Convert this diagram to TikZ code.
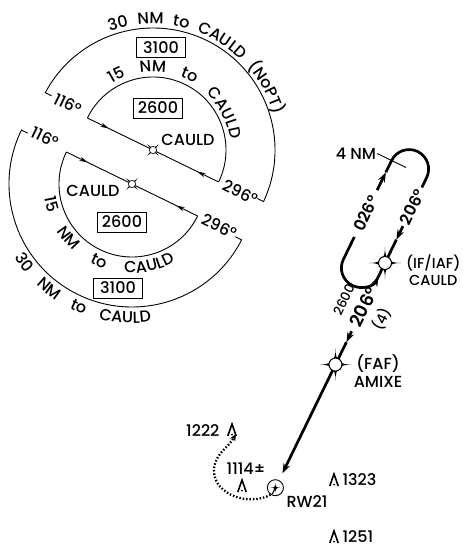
\documentclass[tikz,border=0pt]{standalone}
\usepackage{fontspec}
\setmainfont{Poppins}[UprightFont={* Medium}, BoldFont={* SemiBold}]
\usetikzlibrary{positioning,calc,arrows.meta,decorations.text,decorations.markings}

\tikzset{
    hldtip/.tip={Stealth[length=8pt,width=4.5pt]},
    crstip/.tip={Stealth[length=10pt,width=7pt]},
    holdline/.style={line width=0.9pt},
    course/.style={line width=2.7pt},
    missed/.style={line width=2.3pt, dash pattern=on 1.5pt off 1.9pt},
    altbox/.style={draw, line width=0.9pt, minimum width=49pt, minimum height=20pt, inner sep=0pt},
    hdg/.style={font=\fontsize{16}{19}\selectfont\bfseries, rotate=64},
    arctext/.style={decorate, decoration={text along path, text={#1}, text align=fit to path stretching spaces}},
    inbound/.style={postaction={decorate}, decoration={markings,
        mark=at position 0.16 with {\arrow{hldtip}},
        mark=at position 0.84 with {\arrowreversed{hldtip}}}},
    fixsm/.pic={
        \fill (45:8) .. controls (45:2.5) and (135:2.5) .. (135:8)
            .. controls (135:2.5) and (225:2.5) .. (225:8)
            .. controls (225:2.5) and (315:2.5) .. (315:8)
            .. controls (315:2.5) and (45:2.5) .. (45:8) -- cycle;
        \filldraw[fill=white, line width=0.6pt] (0,0) circle (3.6);
    },
    fixbig/.pic={
        \fill (0:16) .. controls (0:4) and (90:4) .. (90:16)
            .. controls (90:4) and (180:4) .. (180:16)
            .. controls (180:4) and (270:4) .. (270:16)
            .. controls (270:4) and (0:4) .. (0:16) -- cycle;
        \filldraw[fill=white, line width=1pt] (0,0) circle (6.5);
    },
    obst/.pic={
        \draw[line width=1.6pt] (-4.2,-6) -- (0,6) -- (4.2,-6);
        \fill (0,-4.5) circle (1);
    },
    aptsym/.pic={
        \fill (0:5) .. controls (0:1) and (90:1) .. (90:5)
            .. controls (90:1) and (180:1) .. (180:5)
            .. controls (180:1) and (270:1) .. (270:5)
            .. controls (270:1) and (0:1) .. (0:5) -- cycle;
        \draw[line width=1.2pt] (0,0) -- (-116:7);
    },
}

\begin{document}
\fontsize{16}{18}\selectfont
\begin{tikzpicture}[x=1pt, y=1pt]
    \useasboundingbox (0,0) rectangle (465,-548);

    % holding over CAULD, upper
    \coordinate (cauldU) at (153,-150);
    \coordinate (uIn) at ($(cauldU)+(154:73)$);
    \coordinate (uOut) at ($(cauldU)+(-26:73)$);
    \coordinate (uArcR) at ($(cauldU)+(-25:122)$);
    \draw[holdline, inbound] (uIn) -- (uOut);
    \draw[holdline] (uOut) arc[start angle=-26, end angle=154, radius=73];
    \draw[holdline] ($(uArcR)+(154:7)$) -- (uArcR) arc[start angle=-25, end angle=152, radius=122] -- ++(-26:7);
    \path[arctext={30 NM to CAULD (NoPT)}] ($(cauldU)+(110:126)$) arc[start angle=110, end angle=16, radius=126];
    \path[arctext={15 NM to CAULD}] ($(cauldU)+(122:78)$) arc[start angle=122, end angle=8, radius=78];
    \node[altbox] at (161,-47.5) (altUo) {3100};
    \node[altbox] at (158,-108) (altUi) {2600};
    \node at (188,-140) (lblU) {CAULD};
    \node[rotate=-26] at ($(cauldU)+(154:97)+(64:4)$) (u116) {116°};
    \node[rotate=-26] at ($(cauldU)+(-26:97)$) (u296) {296°};
    \pic at (cauldU) {fixsm};

    % holding over CAULD, lower
    \coordinate (cauldL) at (132,-184);
    \coordinate (lIn) at ($(cauldL)+(154:73)$);
    \coordinate (lOut) at ($(cauldL)+(-26:73)$);
    \coordinate (lArcL) at ($(cauldL)+(154:123)$);
    \draw[holdline, inbound] (lIn) -- (lOut);
    \draw[holdline] (lIn) arc[start angle=154, end angle=334, radius=73];
    \draw[holdline] ($(lArcL)+(-26:7)$) -- (lArcL) arc[start angle=154, end angle=333, radius=123] -- ++(154:7);
    \path[arctext={15 NM to CAULD}] ($(cauldL)+(189:89)$) arc[start angle=189, end angle=299, radius=89];
    \path[arctext={30 NM to CAULD}] ($(cauldL)+(212:139)$) arc[start angle=212, end angle=278, radius=139];
    \node[altbox] at (122,-222) (altLi) {2600};
    \node[altbox] at (118,-288) (altLo) {3100};
    \node at (93,-191) (lblL) {CAULD};
    \node[rotate=-26] at ($(cauldL)+(154:99)+(64:4)$) (l116) {116°};
    \node[rotate=-26] at ($(cauldL)+(-26:97)$) (l296) {296°};
    \pic at (cauldL) {fixsm};

    % racetrack at the IAF
    \coordinate (iaf) at (385,-263);
    \coordinate (lgA) at ($(iaf)+(154:39)+(64:10)$);
    \coordinate (lgB) at ($(iaf)+(154:39)+(64:-15)$);
    \coordinate (lgC) at ($(iaf)+(154:39)+(64:62)$);
    \coordinate (lgM) at ($(iaf)+(154:39)+(64:82)$);
    \coordinate (lgD) at ($(iaf)+(154:39)+(64:95)$);
    \coordinate (rgD) at ($(iaf)+(64:84)$);
    \coordinate (rgE) at ($(iaf)+(64:41)$);
    \coordinate (rgM) at ($(iaf)+(64:26)$);
    \draw[course, -{crstip}] (lgA) -- (lgB) arc[start angle=154, end angle=334, radius=19.5];
    \draw[course, -{crstip}] (lgC) -- (lgM);
    \draw[course] (lgM) -- (lgD) arc[start angle=154, end angle=-26, radius=19.5] -- (rgD);
    \draw[course, -{crstip}] (rgE) -- (rgM);
    \draw[course] (rgM) -- (iaf);
    \node[hdg] at ($(iaf)+(154:39)+(64:36)$) (out026) {026°};
    \node[hdg] at ($(iaf)+(64:62.5)$) (in206) {206°};
    \coordinate (tkA) at ($(lgD)+(154:16)$);
    \coordinate (tkB) at ($(lgD)+(-26:16)$);
    \draw[holdline] (tkA) -- (tkB);
    \node at (356,-154) (legLen) {4 NM};

    % final approach
    \coordinate (c1) at ($(iaf)+(-116:21)$);
    \coordinate (c2) at ($(iaf)+(-116:76)$);
    \coordinate (c3) at ($(iaf)+(-116:88)$);
    \coordinate (faf) at ($(iaf)+(-116:113)$);
    \coordinate (a1) at ($(faf)+(-116:121)$);
    \draw[course] (iaf) -- (c1);
    \draw[course, -{crstip}] (c2) -- (c3);
    \draw[course] (c3) -- (faf);
    \draw[course, -{crstip}] (faf) -- (a1);
    \node[font=\fontsize{18}{20}\selectfont\bfseries, rotate=64] at ($(iaf)+(-116:49)$) (crs206) {206°};
    \node[font=\fontsize{13}{15}\selectfont, rotate=64] at ($(iaf)+(-116:51)+(154:21)$) (alt2600) {2600};
    \node[font=\fontsize{14}{16}\selectfont, rotate=64] at ($(iaf)+(-116:52)+(-26:22)$) (dist4) {(4)};
    \pic at (iaf) {fixbig};
    \pic at (faf) {fixbig};
    \node[align=center, anchor=east, font=\fontsize{14.5}{17}\selectfont] at (466,-270) (iafLbl) {(IF/IAF)\\CAULD};
    \node[align=center] at (378,-371) (fafLbl) {(FAF)\\AMIXE};

    % airport, missed approach and obstacles
    \node[circle, draw, fill=white, line width=0.9pt, minimum size=16pt, inner sep=0pt] at ($(faf)+(-116:137)$) (apt) {};
    \pic at (apt) {aptsym};
    \node at (307,-502) (rwy) {RW21};
    \coordinate (mpL) at (214,-471);
    \coordinate (mpE) at (236,-434);
    \draw[missed, -{Stealth[length=7pt,width=6pt]}] (apt.235) to[out=210, in=270] (mpL) to[out=90, in=240] (mpE);
    \pic at (232,-430) {obst};
    \node[anchor=east] at (225,-431) (ob1222) {1222};
    \pic at (242,-486) {obst};
    \node at (246,-469) (ob1114) {1114±};
    \pic at (334,-480) {obst};
    \node[anchor=west] at (337,-480) (ob1323) {1323};
    \pic at (334,-537) {obst};
    \node[anchor=west] at (337,-537) (ob1251) {1251};
\end{tikzpicture}
\end{document}
